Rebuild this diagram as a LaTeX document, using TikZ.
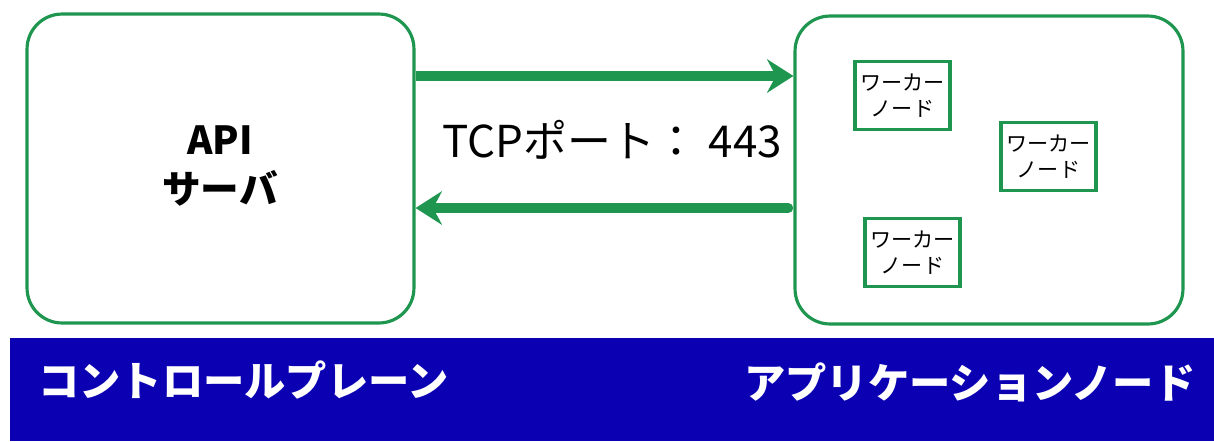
\documentclass[tikz,border=0pt]{standalone}
\usepackage{fontspec}
\setmainfont{Noto Sans CJK JP}
\usetikzlibrary{arrows.meta}
\definecolor{boxgreen}{RGB}{30,150,80}
\definecolor{bandblue}{RGB}{11,0,178}
\tikzset{
  bigbox/.style={draw=boxgreen,line width=1.8pt,rounded corners=0.7cm,fill=white},
  worker/.style={draw=boxgreen,line width=1.8pt,minimum width=1.9cm,minimum height=1.36cm,
    align=center,inner sep=0pt,font=\fontsize{12}{15}\selectfont},
  flow/.style={draw=boxgreen,line width=5.7pt,
    -{Stealth[length=15pt,width=19pt,inset=5pt]}},
  bandtext/.style={anchor=west,text=white,font=\fontsize{23.5}{28}\selectfont\bfseries}
}
\begin{document}
\begin{tikzpicture}[x=0.02cm,y=-0.02cm]
\useasboundingbox (0,0) rectangle (1214,441);
\node[bigbox,minimum width=7.74cm,minimum height=6.18cm] (api) at (220.5,168.5) {};
\node[bigbox,minimum width=7.76cm,minimum height=6.16cm] (app) at (989,170) {};
\node[align=center,font=\fontsize{22}{28}\selectfont\bfseries] (apilabel) at (220,166) {API\\サーバ};
\node[worker] (w1) at (902.5,95.5) {ワーカー\\ノード};
\node[worker] (w2) at (1048.5,156.5) {ワーカー\\ノード};
\node[worker] (w3) at (912.5,252.5) {ワーカー\\ノード};
% connections
\coordinate (up) at (600,76);
\coordinate (down) at (600,208);
\draw[flow,line cap=butt] (api.east |- up) -- (app.west |- up);
\draw[flow,line cap=round] ([xshift=-3]app.west |- down) -- (api.east |- down);
\node[font=\fontsize{25}{30}\selectfont] (tcp) at (612,140) {TCPポート： 443};
% band
\fill[bandblue] (10,338) rectangle (1214,441);
\node[bandtext] (cp) at (32,380) {コントロールプレーン};
\node[bandtext] (an) at (738,382) {アプリケーションノード};
\end{tikzpicture}
\end{document}
